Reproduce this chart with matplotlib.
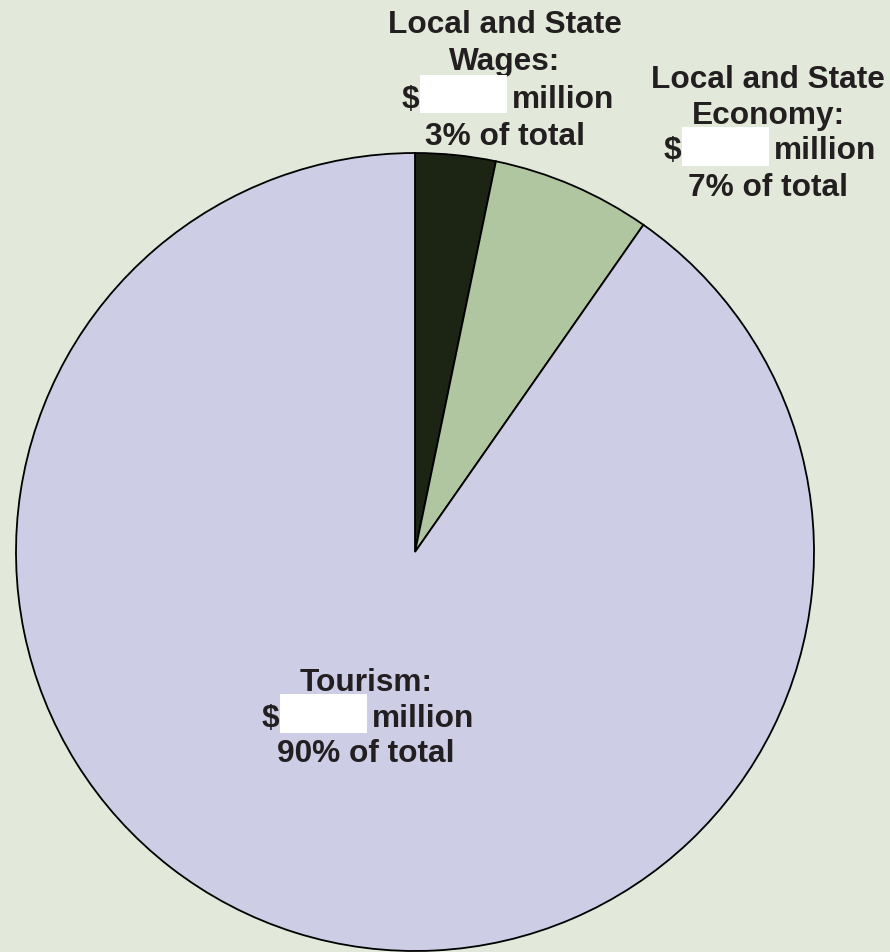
import matplotlib.pyplot as plt
from matplotlib.patches import Rectangle

# slice data (clockwise from 12 o'clock)
names = ["Local and State Wages", "Local and State Economy", "Tourism"]
shares = [3.25, 6.45, 90.3]
pct_labels = ["3%", "7%", "90%"]
colors = ["#1c2413", "#afc6a0", "#cdcde6"]

bg = "#e2e9da"
txt = "#231f20"

W, H = 890, 952
fig = plt.figure(figsize=(W / 100, H / 100), dpi=100, facecolor=bg)
ax = fig.add_axes([0, 0, 1, 1])
ax.set_facecolor(bg)

# pie in pixel-like coords (y axis inverted -> flip direction)
ax.pie(shares, colors=colors, center=(415, 552), radius=399,
       startangle=-90, counterclock=True,
       wedgeprops=dict(edgecolor="black", linewidth=1.3),
       frame=True)
ax.set_xlim(0, W)
ax.set_ylim(H, 0)
ax.set_aspect("equal")
ax.axis("off")

font = dict(family=["Liberation Sans", "DejaVu Sans"], weight="bold",
            fontsize=22.8, color=txt)

def label(lines, x, ys, box):
    for line, y in zip(lines, ys):
        y = y + 2
        if line == "$":
            ax.text(box[0] - 1, y, "$", ha="right", va="center", **font)
            ax.text(box[2] + 5, y, "million", ha="left", va="center", **font)
            ax.add_patch(Rectangle((box[0], box[1]), box[2] - box[0], box[3] - box[1],
                                   facecolor="white", edgecolor="none", zorder=5))
        else:
            ax.text(x, y, line, ha="center", va="center", **font)

label(["Local and State", "Wages:", "$", f"{pct_labels[0]} of total"],
      505, [23, 60, 98, 135], (420, 75, 507, 113))
label(["Local and State", "Economy:", "$", f"{pct_labels[1]} of total"],
      768, [78, 114, 149, 186], (682, 127, 769, 166))
label(["Tourism:", "$", f"{pct_labels[2]} of total"],
      366, [681, 717, 752], (280, 694, 367, 733))

fig.savefig("out.png", dpi=100, facecolor=bg)
